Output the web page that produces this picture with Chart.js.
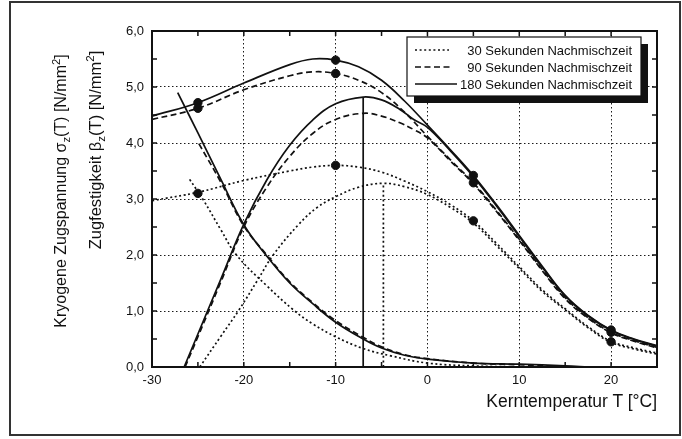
<!DOCTYPE html>
<html>
<head>
<meta charset="utf-8">
<script src="https://cdn.jsdelivr.net/npm/chart.js@4.4.0/dist/chart.umd.min.js"></script>
<style>
  html, body { margin: 0; padding: 0; background: #fff; }
  #wrap { position: relative; width: 682px; height: 439px; }
  canvas { position: absolute; left: 0; top: 0; }
  .title { position: absolute; font-family: "Liberation Sans", Arial, sans-serif; color: #111; white-space: nowrap; line-height: 1; }
  .ytitle { transform: translate(-50%, -50%) rotate(-90deg); }
  sub, sup { font-size: 70%; line-height: 0; }
</style>
</head>
<body>
<div id="wrap">
  <canvas id="chart" width="682" height="439"></canvas>
  <div class="title ytitle" style="left:61px; top:191px; font-size:16px">Kryogene Zugspannung σ<sub>z</sub>(T) [N/mm<sup>2</sup>]</div>
  <div class="title ytitle" style="left:95px; top:150px; font-size:16.5px">Zugfestigkeit β<sub>z</sub>(T) [N/mm<sup>2</sup>]</div>
  <div class="title" style="right:25px; top:393px; font-size:17.5px">Kerntemperatur T [°C]</div>
</div>
<script>
// --- data ---
// upper curves: Zugfestigkeit
const tUpper   = [-30, -25, -20, -15, -12.5, -10, -7.5, -5, -2.5, 0, 2.5, 5, 7.5, 10, 12.5, 15, 17.5, 20, 22.5, 25];
const upper180 = [4.48, 4.72, 5.07, 5.40, 5.50, 5.48, 5.36, 5.12, 4.75, 4.32, 3.88, 3.42, 2.90, 2.35, 1.80, 1.28, 0.92, 0.66, 0.50, 0.38];
const upper90  = [4.42, 4.62, 4.95, 5.20, 5.27, 5.24, 5.12, 4.90, 4.55, 4.12, 3.70, 3.29, 2.80, 2.28, 1.74, 1.24, 0.88, 0.62, 0.47, 0.35];
const upper30  = [2.97, 3.12, 3.33, 3.50, 3.57, 3.60, 3.57, 3.48, 3.32, 3.13, 2.90, 2.61, 2.21, 1.79, 1.38, 1.04, 0.72, 0.46, 0.34, 0.25];

// bell curves
const tBell180 = [-26.5, -25, -22.5, -20, -17.5, -15, -12.5, -10, -7, -5, -3, -1.5, 0, 2.5, 5, 7.5, 10, 12.5, 15, 17.5, 20, 22.5, 25];
const bell180  = [0, 0.59, 1.57, 2.55, 3.34, 3.96, 4.41, 4.70, 4.82, 4.77, 4.60, 4.42, 4.28, 3.86, 3.40, 2.88, 2.33, 1.78, 1.27, 0.91, 0.65, 0.49, 0.37];
const tBell90  = [-26.4, -25, -22.5, -20, -17.5, -15, -12.5, -10, -7, -5, -3, -1.5, 0, 2.5, 5, 7.5, 10, 12.5, 15, 17.5, 20, 22.5, 25];
const bell90   = [0, 0.54, 1.52, 2.50, 3.21, 3.76, 4.17, 4.42, 4.53, 4.48, 4.36, 4.24, 4.09, 3.68, 3.27, 2.78, 2.26, 1.72, 1.22, 0.87, 0.61, 0.46, 0.34];
const tBell30  = [-24.8, -22.5, -20.6, -18.5, -16.8, -14, -12, -10, -7.5, -4.8, -2.5, 0, 2.5, 5, 7.5, 10, 12.5, 15, 17.5, 20, 22.5, 25];
const bell30   = [0, 0.55, 1.0, 1.55, 2.0, 2.55, 2.85, 3.04, 3.21, 3.28, 3.22, 3.08, 2.85, 2.57, 2.17, 1.76, 1.35, 1.02, 0.70, 0.44, 0.32, 0.23];

// falling curves: kryogene Zugspannung
const tFall180 = [-27.2, -25, -22.5, -20, -17.5, -15, -12.5, -10, -7, -5, -2.5, 0, 5, 10, 15, 17.5];
const fall180  = [4.9, 4.18, 3.35, 2.54, 1.98, 1.50, 1.13, 0.80, 0.50, 0.34, 0.21, 0.14, 0.07, 0.05, 0.02, 0];
const tFall90  = [-24.9, -22.5, -20, -17.5, -15, -12.5, -10, -7, -5, -2.5, 0, 5, 10, 15];
const fall90   = [3.99, 3.30, 2.52, 2.00, 1.52, 1.15, 0.83, 0.53, 0.36, 0.22, 0.15, 0.07, 0.04, 0.01];
const tFall30  = [-25.9, -24.4, -22.5, -20.8, -17.5, -14.6, -12.5, -10, -7, -4, 0, 5, 10];
const fall30   = [3.35, 2.98, 2.45, 2.00, 1.45, 1.02, 0.77, 0.54, 0.33, 0.20, 0.07, 0.02, 0];

// maxima markers (vertical lines)
const peak180 = { t: -7.0, v: 4.82 };
const peak30  = { t: -4.8, v: 3.28 };

// measured points
const tMeas   = [-25, -10, 5, 20];
const meas180 = [4.72, 5.48, 3.42, 0.66];
const meas90  = [4.62, 5.24, 3.29, 0.62];
const meas30  = [3.10, 3.60, 2.61, 0.45];

const legendLabels = ['30 Sekunden Nachmischzeit', '90 Sekunden Nachmischzeit', '180 Sekunden Nachmischzeit'];

const xTicks = [-30, -20, -10, 0, 10, 20];
const FONT = '"Liberation Sans", Arial, sans-serif';
const INK = '#111';

const DOT = [2, 2.6];
const DASH = [6, 3.5];

const pts = (ts, vs) => ts.map((t, i) => ({ x: t, y: vs[i] }));

function curve(ts, vs, dash) {
  return {
    data: pts(ts, vs),
    borderColor: INK,
    borderWidth: 1.7,
    borderDash: dash || [],
    pointRadius: 0,
    fill: false,
    tension: 0.4
  };
}
function marks(vs) {
  return {
    data: pts(tMeas, vs),
    showLine: false,
    pointRadius: 4.2,
    pointBackgroundColor: INK,
    pointBorderColor: INK
  };
}
function vline(p, dash) {
  return {
    data: [{ x: p.t, y: 0 }, { x: p.t, y: p.v }],
    borderColor: INK,
    borderWidth: 1.7,
    borderDash: dash || [],
    pointRadius: 0,
    tension: 0
  };
}

// frame, inward ticks, legend box and outer border
const framePlugin = {
  id: 'frame',
  afterDraw(chart) {
    const { ctx, chartArea: a, scales: { x, y } } = chart;
    ctx.save();
    ctx.strokeStyle = INK;
    ctx.lineWidth = 1.5;
    ctx.beginPath();
    for (let t = -25; t < 25; t += 5) {
      const px = x.getPixelForValue(t);
      ctx.moveTo(px, a.bottom); ctx.lineTo(px, a.bottom - 5);
      ctx.moveTo(px, a.top); ctx.lineTo(px, a.top + 5);
    }
    for (let v = 0.5; v < 6; v += 0.5) {
      const py = y.getPixelForValue(v);
      ctx.moveTo(a.left, py); ctx.lineTo(a.left + 5, py);
      ctx.moveTo(a.right, py); ctx.lineTo(a.right - 5, py);
    }
    ctx.stroke();
    ctx.lineWidth = 2;
    ctx.strokeRect(a.left, a.top, a.right - a.left, a.bottom - a.top);

    // legend
    const lx = 407, ly = 37, lw = 234, lh = 59;
    ctx.fillStyle = INK;
    ctx.fillRect(lx + 7, ly + 7, lw, lh);
    ctx.fillStyle = '#fff';
    ctx.fillRect(lx, ly, lw, lh);
    ctx.lineWidth = 1.2;
    ctx.strokeRect(lx, ly, lw, lh);
    const styles = [[DOT, 449], [DASH, 450], [[], 457]];
    ctx.font = '13px ' + FONT;
    ctx.textAlign = 'right';
    ctx.textBaseline = 'middle';
    legendLabels.forEach((lab, i) => {
      const ry = ly + 13 + i * 17;
      ctx.setLineDash(styles[i][0]);
      ctx.lineWidth = 1.7;
      ctx.beginPath();
      ctx.moveTo(lx + 8, ry);
      ctx.lineTo(styles[i][1], ry);
      ctx.stroke();
      ctx.setLineDash([]);
      ctx.fillStyle = INK;
      ctx.fillText(lab, lx + 225, ry + 1);
    });

    // outer frame of the figure
    ctx.strokeStyle = '#333';
    ctx.lineWidth = 2;
    ctx.strokeRect(10, 2, 670, 433);
    ctx.restore();
  }
};

new Chart(document.getElementById('chart'), {
  type: 'line',
  data: {
    datasets: [
      curve(tUpper, upper30, DOT), curve(tUpper, upper90, DASH), curve(tUpper, upper180),
      curve(tBell30, bell30, DOT), curve(tBell90, bell90, DASH), curve(tBell180, bell180),
      curve(tFall30, fall30, DOT), curve(tFall90, fall90, DASH), curve(tFall180, fall180),
      vline(peak180), vline(peak30, DOT),
      marks(meas30), marks(meas90), marks(meas180)
    ]
  },
  options: {
    responsive: false,
    animation: false,
    layout: { padding: { left: 0, top: 31, right: 25, bottom: 0 } },
    plugins: { legend: { display: false }, tooltip: { enabled: false } },
    scales: {
      x: {
        type: 'linear', min: -30, max: 25,
        afterFit: s => { s.height = 72; },
        afterBuildTicks: s => { s.ticks = xTicks.map(v => ({ value: v })); },
        ticks: { autoSkip: false, maxRotation: 0, padding: 6, color: INK, font: { family: FONT, size: 13 } },
        grid: { color: '#1a1a1a', lineWidth: 1, drawTicks: false },
        border: { display: false, dash: [1.5, 2.5] }
      },
      y: {
        min: 0, max: 6,
        afterFit: s => { s.width = 152; },
        ticks: { stepSize: 1, padding: 8, color: INK, font: { family: FONT, size: 13 },
                 callback: v => v.toFixed(1).replace('.', ',') },
        grid: { color: '#1a1a1a', lineWidth: 1, drawTicks: false },
        border: { display: false, dash: [1.5, 2.5] }
      }
    }
  },
  plugins: [framePlugin]
});
</script>
</body>
</html>
